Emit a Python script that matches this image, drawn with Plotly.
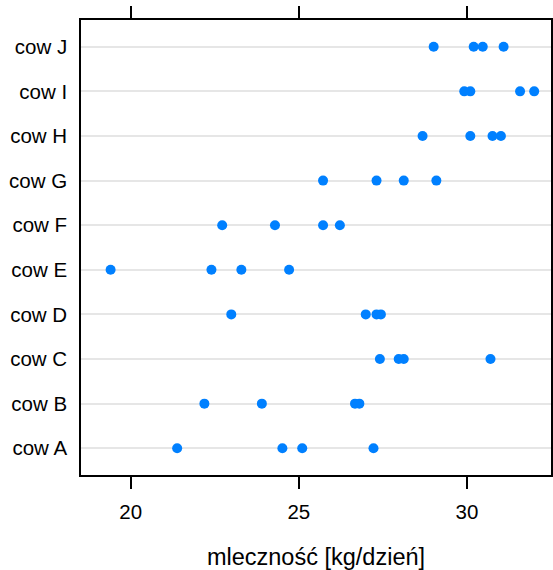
import plotly.graph_objects as go

cows = ["cow A", "cow B", "cow C", "cow D", "cow E",
        "cow F", "cow G", "cow H", "cow I", "cow J"]

milk_A = [21.38, 24.51, 25.10, 27.22]
milk_B = [22.19, 23.90, 26.67, 26.80]
milk_C = [27.41, 27.97, 28.12, 30.70]
milk_D = [22.99, 26.99, 27.31, 27.44]
milk_E = [19.40, 22.40, 23.29, 24.71]
milk_F = [22.72, 24.29, 25.72, 26.22]
milk_G = [25.72, 27.31, 28.12, 29.09]
milk_H = [28.68, 30.10, 30.76, 31.01]
milk_I = [29.92, 30.10, 31.58, 32.00]
milk_J = [29.01, 30.20, 30.47, 31.09]

values = [milk_A, milk_B, milk_C, milk_D, milk_E,
          milk_F, milk_G, milk_H, milk_I, milk_J]

xs, ys = [], []
for cow, vals in zip(cows, values):
    xs.extend(vals)
    ys.extend([cow] * len(vals))

fig = go.Figure()
fig.add_trace(go.Scatter(
    x=xs, y=ys, mode="markers",
    marker=dict(color="#0080FF", size=10, line=dict(width=0)),
    showlegend=False, hoverinfo="x+y",
))

fig.update_layout(
    width=553, height=570,
    margin=dict(l=81, r=0, t=20, b=95),
    paper_bgcolor="white", plot_bgcolor="white",
    font=dict(family="Liberation Sans, Arial, sans-serif", color="black", size=20),
    xaxis=dict(
        range=[18.52, 32.50],
        tickvals=[20, 25, 30],
        ticks="outside", ticklen=12, tickwidth=1.5, tickcolor="black",
        showline=True, linecolor="black", linewidth=1.5, mirror="ticks",
        showgrid=False, zeroline=False,
        tickfont=dict(size=20.5),
        ticklabelstandoff=6,
        title=dict(text="mleczność [kg/dzień]", font=dict(size=23.5), standoff=26),
    ),
    yaxis=dict(
        type="category",
        categoryorder="array", categoryarray=cows,
        range=[-0.6, 9.6],
        showline=True, linecolor="black", linewidth=1.5, mirror=True,
        ticks="", showgrid=True, gridcolor="#e6e6e6", gridwidth=2,
        tickfont=dict(size=20.5),
        ticklabelstandoff=8,
        zeroline=False,
    ),
)

fig.write_html("out.html")
